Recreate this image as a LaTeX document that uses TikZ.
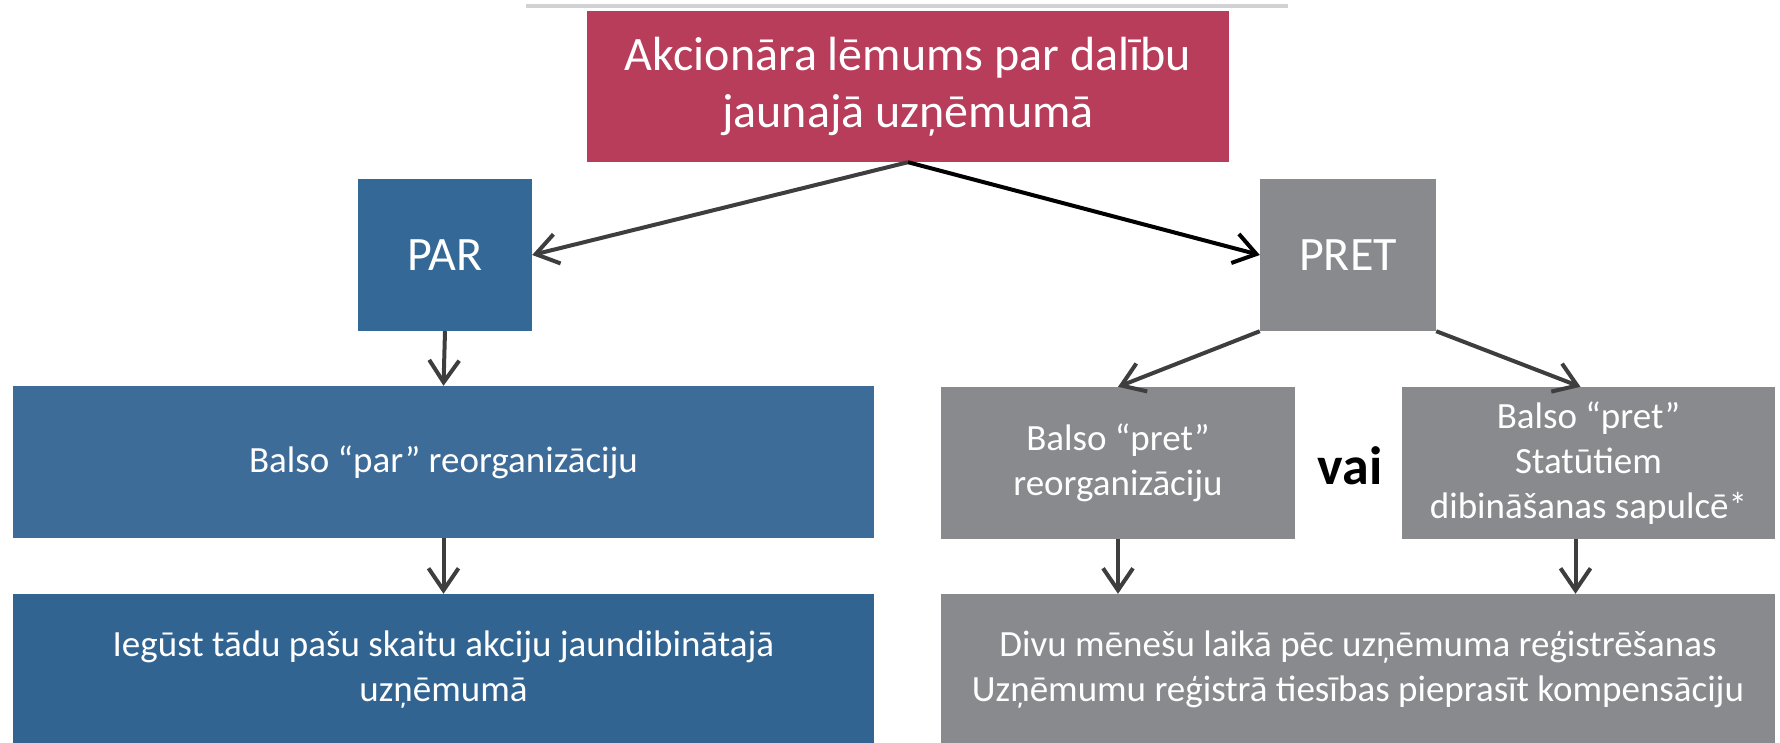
\documentclass[tikz,border=0pt]{standalone}
\usepackage{fontspec}
\setmainfont{Carlito}
\usepackage{xcolor}
\usepackage{tikz}
\usetikzlibrary{arrows.meta}

\definecolor{sarkans}{RGB}{183,61,90}
\definecolor{zils}{RGB}{52,104,150}
\definecolor{zilsg}{RGB}{61,108,153}
\definecolor{zilst}{RGB}{50,100,146}
\definecolor{peleks}{RGB}{137,138,142}
\definecolor{svitra}{RGB}{210,210,212}
\definecolor{bulta}{RGB}{62,62,62}

\begin{document}
\begin{tikzpicture}[x=1pt, y=-1pt,
	kaste/.style={rectangle, inner sep=0pt, text=white, align=center,
		font=\fontsize{37}{45}\selectfont},
	virsraksts/.style={kaste, font=\fontsize{48}{57}\selectfont},
	bult/.style={line width=4pt, draw=bulta,
		-{Straight Barb[length=22pt, width=30pt, line width=4pt]}}]
	\useasboundingbox (0,0) rectangle (1780,742);
	\draw[svitra, line width=4pt] (526,6) -- (1288,6);
	\draw
	node[virsraksts, fill=sarkans, minimum width=642, minimum height=151] at (908,86.5) (lem) {Akcionāra lēmums par dalību\\jaunajā uzņēmumā}
	node[virsraksts, fill=zils, minimum width=174, minimum height=152] at (445,255) (par) {PAR}
	node[virsraksts, fill=peleks, minimum width=176, minimum height=152] at (1348,255) (pret) {PRET}
	node[kaste, fill=zilsg, minimum width=861, minimum height=152] at (443.5,462) (balpar) {Balso “par” reorganizāciju}
	node[kaste, fill=zilst, minimum width=861, minimum height=152] at (443.5,670) (ieg) {Iegūst tādu pašu skaitu akciju jaundibinātajā\\uzņēmumā}
	node[kaste, fill=peleks, minimum width=354, minimum height=152] at (1118,463) (balpret) {Balso “pret”\\reorganizāciju}
	node[kaste, fill=peleks, minimum width=373, minimum height=152] at (1588.5,463) (stat) {Balso “pret”\\Statūtiem\\dibināšanas sapulcē*}
	node[kaste, fill=peleks, minimum width=834, minimum height=152] at (1358,670) (komp) {Divu mēnešu laikā pēc uzņēmuma reģistrēšanas\\Uzņēmumu reģistrā tiesības pieprasīt kompensāciju}
	node[font=\fontsize{54}{60}\selectfont\bfseries] at (1350,466) (vai) {vai};
	\draw[bult] (lem.south) -- (par.east);
	\draw[bult, draw=black] (lem.south) -- (pret.west);
	\draw[bult] (par.south) -- (balpar.north);
	\draw[bult] (balpar.south) -- (ieg.north);
	\draw[bult] (pret.south west) -- (balpret.north);
	\draw[bult] (pret.south east) -- ([xshift=-8pt]stat.north);
	\draw[bult] (balpret.south) -- (balpret.south |- komp.north);
	\draw[bult] ([xshift=-13pt]stat.south) -- ([xshift=-13pt]stat.south |- komp.north);
\end{tikzpicture}
\end{document}
